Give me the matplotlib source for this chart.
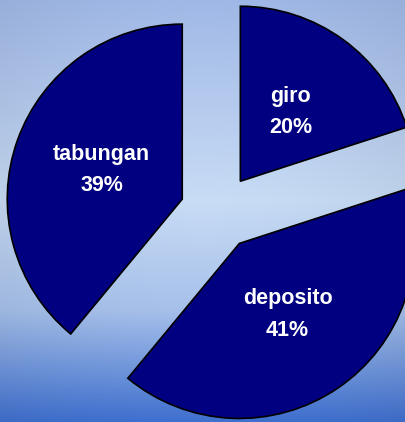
import numpy as np
import matplotlib.pyplot as plt

labels = ['giro', 'deposito', 'tabungan']
values = [20, 41, 39]

W, H = 406, 422
fig = plt.figure(figsize=(W / 100, H / 100), dpi=100)
ax = fig.add_axes([0, 0, 1, 1])

# latar gradasi biru
stops_y = [0, 200, 310, 422]
stops_c = np.array([[0xa0, 0xb8, 0xe6],
                    [0xc8, 0xdc, 0xf5],
                    [0xa6, 0xc0, 0xea],
                    [0x3e, 0x6f, 0xcf]]) / 255.0
yy = np.arange(H)
col = np.stack([np.interp(yy, stops_y, stops_c[:, k]) for k in range(3)], axis=1)
xx = np.arange(W)
edge = ((xx - W / 2) / (W / 2)) ** 2
img = col[:, None, :] * (1 - 0.05 * edge[None, :, None])
ax.imshow(img, extent=(0, W, 0, H), origin='upper', zorder=0, aspect='auto')

texts_lbl = iter(labels)
def autop(p):
    return f'{next(texts_lbl)}\n{p:.0f}%'

wedges, _, autotexts = ax.pie(values, center=(218, 210), radius=175,
                              explode=[38, 38, 38], startangle=90, counterclock=False,
                              colors=['#000080'] * 3, autopct=autop, pctdistance=0.49,
                              wedgeprops=dict(edgecolor='black', linewidth=1.2),
                              textprops=dict(color='white', fontweight='bold', fontsize=15.5,
                                             family='Liberation Sans', linespacing=1.65),
                              frame=True)
for w in wedges:
    w.set_zorder(2)
for t in autotexts:
    t.set_zorder(3)

ax.set_xlim(0, W)
ax.set_ylim(0, H)
ax.set_aspect('auto')
ax.set_axis_off()

fig.savefig('out.png', dpi=100)
